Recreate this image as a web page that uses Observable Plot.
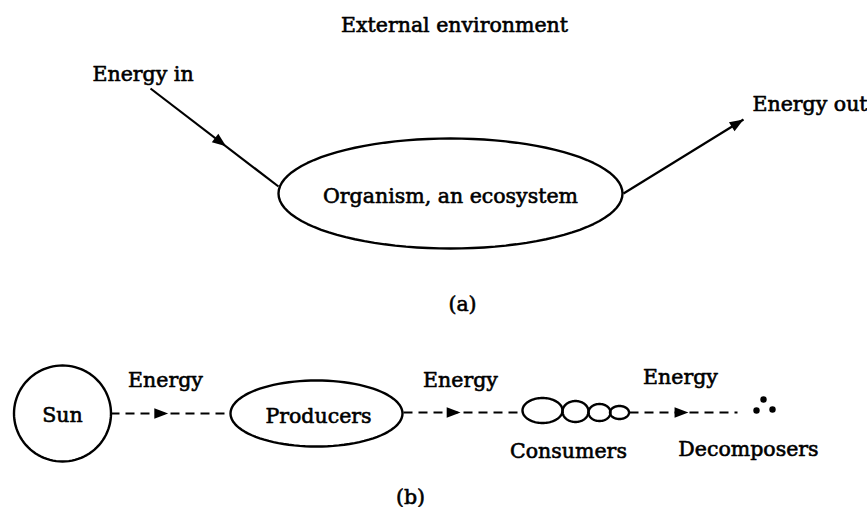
<!DOCTYPE html>
<html>
<head>
<meta charset="utf-8">
<script src="https://cdn.jsdelivr.net/npm/d3@7"></script>
<script src="https://cdn.jsdelivr.net/npm/@observablehq/plot@0.6"></script>
<style>
  html, body { margin: 0; padding: 0; background: #fff; }
  #chart svg { display: block; }
</style>
</head>
<body>
<div id="chart"></div>
<script>
// ---- Diagram content (diagram coordinates: x right, y down) ----

// Text labels
const labelText   = ["External environment", "Energy in", "Energy out", "Organism, an ecosystem", "(a)",
                     "Sun", "Energy", "Producers", "Energy", "Consumers", "Energy", "Decomposers", "(b)"];
const labelX      = [454, 92, 752, 450, 462, 62, 165, 318, 460, 568, 680, 748, 410];
const labelY      = [31, 80, 110, 202, 310, 421, 386, 422, 386, 457, 383, 455, 503];
const labelAnchor = ["middle", "start", "start", "middle", "middle", "middle", "middle", "middle",
                     "middle", "middle", "middle", "middle", "middle"];

// Outlined nodes (ellipses): name, centre, radii
const nodeName = ["Organism, an ecosystem", "Sun", "Producers", "Consumer 1", "Consumer 2", "Consumer 3", "Consumer 4"];
const nodeCX   = [450, 62, 316, 542, 575, 599, 619];
const nodeCY   = [193, 413, 413, 410, 411, 412, 412];
const nodeRX   = [172, 48.5, 86, 20, 13, 11, 9.5];
const nodeRY   = [55, 48, 33, 12.5, 10.5, 8.5, 6.5];

// Energy flows
const flowName   = ["Energy in", "Energy out", "Sun to Producers", "Producers to Consumers", "Consumers to Decomposers"];
const flowX1     = [150, 623, 110, 403, 629];
const flowY1     = [88, 193, 413, 412, 412];
const flowX2     = [278, 743, 230, 523, 737];
const flowY2     = [186, 119, 413, 412, 412];
const flowDashed = [false, false, true, true, true];
const flowHeadAt = [0.59, 1.0, 0.48, 0.475, 0.545]; // where the arrow tip sits along the flow

// Decomposers (three small dots)
const decompX = [756, 763, 772];
const decompY = [410, 399, 409];

// ---- Build tables for Plot ----
const labels = labelText.map((t, i) => ({text: t, x: labelX[i], y: labelY[i], anchor: labelAnchor[i]}));

const outline = [];
nodeName.forEach((n, i) => {
  for (let k = 0; k <= 96; ++k) {
    const a = (k / 96) * 2 * Math.PI;
    outline.push({node: n, x: nodeCX[i] + nodeRX[i] * Math.cos(a), y: nodeCY[i] + nodeRY[i] * Math.sin(a)});
  }
});

const flows = flowName.map((n, i) => ({name: n, x1: flowX1[i], y1: flowY1[i], x2: flowX2[i], y2: flowY2[i], dashed: flowDashed[i]}));

const heads = flows.map((f, i) => {
  const dx = f.x2 - f.x1, dy = f.y2 - f.y1, len = Math.hypot(dx, dy);
  const ux = dx / len, uy = dy / len;
  const tipX = f.x1 + dx * flowHeadAt[i], tipY = f.y1 + dy * flowHeadAt[i];
  const back = 7.5; // symbol centre sits behind the tip
  return {x: tipX - ux * back, y: tipY - uy * back, rotate: Math.atan2(dx, -dy) * 180 / Math.PI};
});

const decomposers = decompX.map((x, i) => ({x, y: decompY[i]}));

// filled arrowhead symbol pointing up (rotated per flow)
const arrowHead = {
  draw(context, size) {
    const r = Math.sqrt(size / Math.PI);
    context.moveTo(0, -1.2 * r);
    context.lineTo(0.85 * r, 1.0 * r);
    context.lineTo(-0.85 * r, 1.0 * r);
    context.closePath();
  }
};

const font = "DejaVu Serif";

const chart = Plot.plot({
  width: 867,
  height: 507,
  margin: 0,
  x: {domain: [0, 867], axis: null},
  y: {domain: [0, 507], reverse: true, axis: null},
  style: {background: "#fff", fontFamily: font},
  marks: [
    Plot.line(outline, {x: "x", y: "y", z: "node", stroke: "#000", strokeWidth: 2.4, curve: "linear"}),
    Plot.link(flows.filter(d => !d.dashed), {x1: "x1", y1: "y1", x2: "x2", y2: "y2", stroke: "#000", strokeWidth: 2.2}),
    Plot.link(flows.filter(d => d.dashed), {x1: "x1", y1: "y1", x2: "x2", y2: "y2", stroke: "#000", strokeWidth: 2, strokeDasharray: "9,6"}),
    Plot.dot(heads, {x: "x", y: "y", rotate: "rotate", symbol: arrowHead, r: 6.3, fill: "#000", stroke: "none"}),
    Plot.dot(decomposers, {x: "x", y: "y", r: 3.2, fill: "#000", stroke: "none"}),
    Plot.text(labels.filter(d => d.anchor === "middle"), {x: "x", y: "y", text: "text", textAnchor: "middle", lineAnchor: "bottom",
      fontSize: 20.5, fontFamily: font, fill: "#000", stroke: "#000", strokeWidth: 0.6}),
    Plot.text(labels.filter(d => d.anchor === "start"), {x: "x", y: "y", text: "text", textAnchor: "start", lineAnchor: "bottom",
      fontSize: 20.5, fontFamily: font, fill: "#000", stroke: "#000", strokeWidth: 0.6})
  ]
});

document.getElementById("chart").appendChild(chart);
</script>
</body>
</html>
